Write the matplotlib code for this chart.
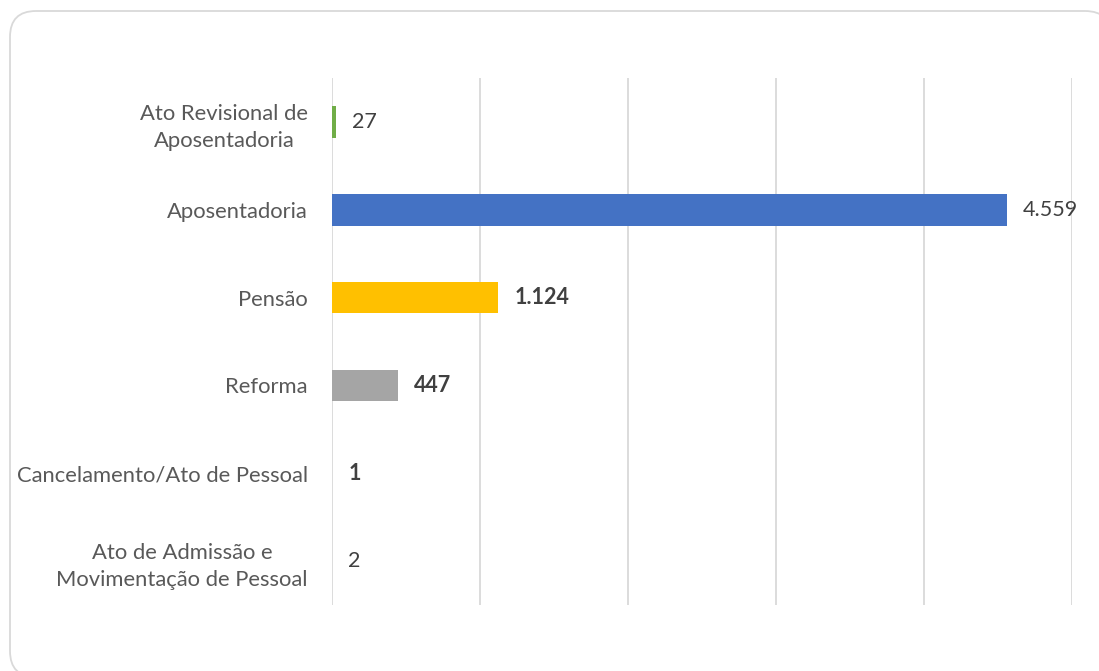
import matplotlib
matplotlib.use("Agg")
import matplotlib.pyplot as plt
from matplotlib.patches import FancyBboxPatch
from matplotlib.transforms import offset_copy

categories = ["Ato Revisional de\nAposentadoria", "Aposentadoria", "Pensão", "Reforma",
              "Cancelamento/Ato de Pessoal", "Ato de Admissão e\nMovimentação de Pessoal"]
values = [27, 4559, 1124, 447, 1, 2]
value_labels = ["27", "4.559", "1.124", "447", "1", "2"]
bold_labels = [False, False, True, True, True, False]
colors = ["#70AD47", "#4472C4", "#FFC000", "#A5A5A5", "#4472C4", "#4472C4"]
xticks = [0, 1000, 2000, 3000, 4000, 5000]

plt.rcParams['font.family'] = ['Lato', 'DejaVu Sans']

W, H = 1099, 671
fig = plt.figure(figsize=(W / 100, H / 100), dpi=100)

# background axes in pixel coordinates for the rounded border
bg = fig.add_axes([0, 0, 1, 1], zorder=-1)
bg.set_xlim(0, W)
bg.set_ylim(H, 0)
bg.axis('off')
box = FancyBboxPatch((10, 11), 1101, 666,
                     boxstyle="round,pad=0,rounding_size=26",
                     facecolor="white", edgecolor="#D9D9D9", linewidth=1.3)
bg.add_patch(box)

ax = fig.add_axes([332 / W, 1 - 605 / H, (1072 - 332) / W, (605 - 78) / H])
ax.set_facecolor("none")
ypos = list(range(len(categories)))
ax.barh(ypos, values, height=0.36, color=colors, zorder=3)
ax.set_xlim(0, 5000)
ax.set_ylim(len(categories) - 0.5, -0.5)
ax.set_xticks(xticks)
ax.set_xticklabels([])
ax.tick_params(axis='x', length=0)
ax.xaxis.grid(True, color="#D9D9D9", linewidth=1.3, zorder=0)
ax.set_yticks(ypos)
ax.set_yticklabels(categories, fontsize=15.8, color="#595959", linespacing=1.45)
ax.tick_params(axis='y', length=0, pad=17.3)
for lab in ax.get_yticklabels():
    lab.set_horizontalalignment('right')
    lab.set_multialignment('center')
for s in ax.spines.values():
    s.set_visible(False)

for y, v, t, b in zip(ypos, values, value_labels, bold_labels):
    trans = offset_copy(ax.transData, fig=fig, x=16, y=0, units='dots')
    ax.text(v, y, t, transform=trans, va='center', ha='left', fontsize=15.5,
            color="#404040", fontweight='bold' if b else 'normal')

fig.savefig("out.png", dpi=100)
